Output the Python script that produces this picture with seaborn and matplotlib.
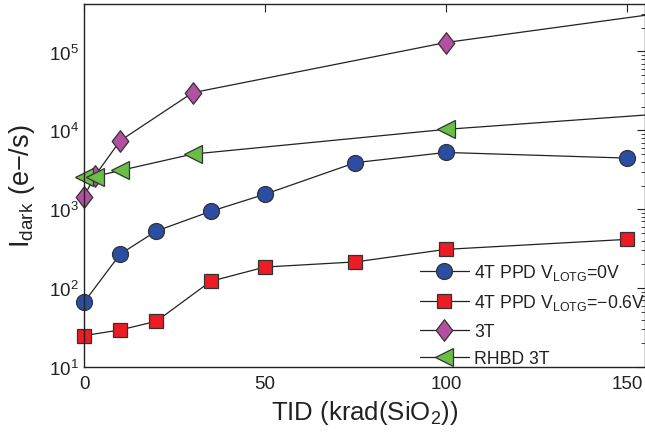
import matplotlib
matplotlib.use("Agg")
import matplotlib.pyplot as plt
import seaborn as sns
import numpy as np
from matplotlib.path import Path

# Data
tid_4t = [0, 10, 20, 35, 50, 75, 100, 150]
idark_4t_0v = [66, 270, 530, 940, 1550, 3900, 5250, 4450]
idark_4t_m06v = [25, 29.5, 38, 122, 185, 215, 310, 415]
tid_3t = [0, 3, 10, 30, 100, 200]
idark_3t = [1450, 2650, 7400, 30000, 130000, 550000]
tid_rhbd = [0, 3, 10, 30, 100, 200]
idark_rhbd = [2570, 2600, 3100, 5000, 10300, 22000]

labels = [r'4T PPD V$_{\mathregular{LOTG}}$=0V',
          r'4T PPD V$_{\mathregular{LOTG}}$=$-$0.6V',
          '3T', 'RHBD 3T']
colors = ['#2B4EA2', '#EC1C24', '#B350A2', '#6ABD45']

sns.set_style("white")
plt.rcParams['font.family'] = ['Liberation Sans', 'DejaVu Sans']
plt.rcParams['mathtext.fontset'] = 'custom'
plt.rcParams['mathtext.rm'] = 'Liberation Sans'
plt.rcParams['mathtext.it'] = 'Liberation Sans:italic'
plt.rcParams['mathtext.bf'] = 'Liberation Sans:bold'

diamond = Path([(0, 1), (0.77, 0), (0, -1), (-0.77, 0), (0, 1)],
               [Path.MOVETO, Path.LINETO, Path.LINETO, Path.LINETO, Path.CLOSEPOLY])

fig = plt.figure(figsize=(6.45, 4.35), dpi=100)
ax = fig.add_axes([84/645, 1-368/435, 1-84/645, (368-5)/435])

series = [
    (tid_4t, idark_4t_0v, 'o', 11.5, labels[0], colors[0]),
    (tid_4t, idark_4t_m06v, 's', 10, labels[1], colors[1]),
    (tid_3t, idark_3t, diamond, 15.5, labels[2], colors[2]),
    (tid_rhbd, idark_rhbd, '<', 12.5, labels[3], colors[3]),
]
for x, y, m, ms, lab, c in series:
    sns.lineplot(x=x, y=y, ax=ax, color='#222222', linewidth=0.9,
                 marker=m, markersize=ms, markerfacecolor=c,
                 markeredgecolor='#333333', markeredgewidth=0.9,
                 label=lab, estimator=None, sort=False, clip_on=False)

ax.set_yscale('log')
ax.set_xlim(0, 155)
ax.set_ylim(10, 4e5)
ax.set_xticks([0, 50, 100, 150])
ax.set_xticklabels(['0', '50', '100', '150'])

for s in ax.spines.values():
    s.set_color('#222222')
    s.set_linewidth(1.0)

ax.tick_params(which='both', direction='in', top=True, right=True,
               colors='#222222', labelsize=13.5)
ax.tick_params(which='major', length=6, width=0.8)
ax.tick_params(which='minor', length=3, width=0.6)
ax.tick_params(axis='x', which='minor', bottom=False, top=False)
ax.tick_params(axis='x', pad=6)

ax.set_xlabel(r'TID (krad(SiO$_{\mathregular{2}}$))', fontsize=18.5, color='#222222')
ax.set_ylabel(r'I$_{\mathregular{dark}}$ (e$-$/s)', fontsize=19.5, color='#222222',
              labelpad=9)

leg = ax.legend(loc='upper left', bbox_to_anchor=(336/561, 0.29), frameon=False,
                fontsize=12.7, handlelength=2.75, handletextpad=0.3,
                labelspacing=0.6, borderpad=0, borderaxespad=0)
for t in leg.get_texts():
    t.set_color('#222222')

fig.savefig('out.png', dpi=100)
